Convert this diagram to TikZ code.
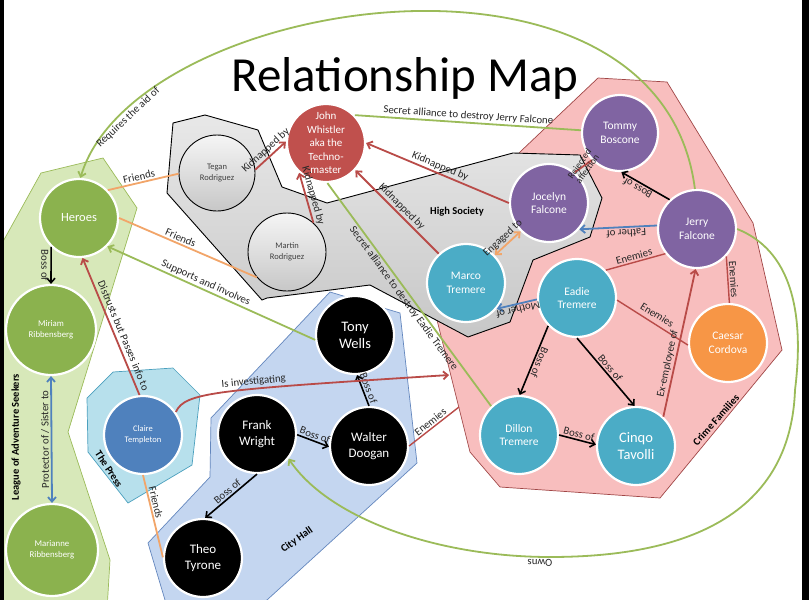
\documentclass[tikz,border=0pt]{standalone}
\usepackage{fontspec}
\setmainfont{Carlito}
\usetikzlibrary{arrows.meta}

\definecolor{heroGreen}{RGB}{139,178,78}
\definecolor{leagueFill}{RGB}{215,232,185}
\definecolor{leagueLine}{RGB}{155,187,89}
\definecolor{crimeFill}{RGB}{248,190,190}
\definecolor{crimeLine}{RGB}{160,70,70}
\definecolor{cityFill}{RGB}{196,214,240}
\definecolor{cityLine}{RGB}{100,135,190}
\definecolor{pressFill}{RGB}{183,224,236}
\definecolor{pressLine}{RGB}{75,160,190}
\definecolor{villainRed}{RGB}{192,80,77}
\definecolor{falconePurple}{RGB}{128,100,162}
\definecolor{tremereAqua}{RGB}{75,172,198}
\definecolor{cordovaOrange}{RGB}{247,150,70}
\definecolor{pressBlue}{RGB}{79,129,189}
\definecolor{friendOrange}{RGB}{242,165,105}
\definecolor{linkGreen}{RGB}{155,187,89}
\definecolor{linkRed}{RGB}{185,75,72}
\definecolor{linkBlue}{RGB}{79,129,189}

\tikzset{
  person/.style={circle, draw=white, line width=2.2pt, minimum size=78pt, inner sep=1pt,
    align=center, text=white, font=\fontsize{11.5}{13.5}\selectfont},
  heroperson/.style={person, fill=heroGreen},
  guestperson/.style={person, draw=black, line width=0.9pt, top color=black!4,
    bottom color=black!22, text=black!75, font=\fontsize{8.5}{11.5}\selectfont},
  bigperson/.style={person, fill=black, font=\fontsize{14.5}{17}\selectfont},
  cityperson/.style={person, fill=black, font=\fontsize{13}{16}\selectfont},
  headend/.style={-{Straight Barb[length=4.5pt,width=8pt]}},
  bothends/.style={{Straight Barb[length=4.5pt,width=8pt]}-{Straight Barb[length=4.5pt,width=8pt]}},
  friendline/.style={friendOrange, line width=1.8pt},
  redline/.style={linkRed, line width=1.8pt},
  enemyline/.style={linkRed, line width=1.4pt},
  greenline/.style={linkGreen, line width=1.8pt},
  blueline/.style={linkBlue, line width=1.8pt},
  bossline/.style={black, line width=1.6pt},
  tag/.style={font=\fontsize{10.8}{12}\selectfont, text=black!85, inner sep=1.5pt},
  grouptag/.style={font=\bfseries\fontsize{10.5}{12}\selectfont, text=black},
  group/.style={line width=0.7pt, line join=miter}
}

\begin{document}
\begin{tikzpicture}[x=1pt,y=-1pt]

    \useasboundingbox (0,0) rectangle (809,600);
    \fill[white] (0,0) rectangle (809,600);

    % ============================================================
    % GROUP REGIONS
    % ============================================================
    \draw[group, draw=leagueLine, fill=leagueFill]
        (41,173) -- (103,158) -- (137,208) -- (68,432) -- (110,560)
        -- (107,610) -- (-10,610) -- (-10,265) -- cycle;
    \draw[group, draw=crimeLine, fill=crimeFill]
        (598,78) -- (667,82) -- (753,223) -- (782,350) -- (660,498)
        -- (500,487) -- (470,452) -- (432,300) -- (520,152) -- cycle;
    \draw[group, draw=black, line width=0.9pt, top color=black!9, bottom color=black!22]
        (173,123) -- (205,115) -- (258,130) -- (282,187) -- (327,203)
        -- (513,153) -- (580,155) -- (602,198) -- (590,237) -- (533,260)
        -- (510,322) -- (468,337) -- (370,285) -- (267,298) -- (262,300)
        -- (167,193) -- cycle;
    \draw[group, draw=cityLine, fill=cityFill]
        (211,418) -- (330,292) -- (400,313) -- (417,463) -- (256,610)
        -- (168,610) -- (148,543) -- (210,477) -- cycle;
    \draw[group, draw=pressLine, fill=pressFill]
        (87,398) -- (113,372) -- (173,368) -- (200,395) -- (192,465)
        -- (128,503) -- (88,452) -- cycle;

    \node[grouptag, rotate=90] (leaguetag) at (16,437) {League of Adventure Seekers};
    \node[grouptag] (societytag) at (457,212) {High Society};
    \node[grouptag, rotate=48] (crimetag) at (716,420) {Crime Families};
    \node[grouptag, rotate=35] (citytag) at (297,540) {City Hall};
    \node[grouptag, rotate=-57] (presstag) at (109,469) {The Press};

    % ============================================================
    % TITLE
    % ============================================================
    \node[font=\fontsize{49}{56}\selectfont] (title) at (405,78) {Relationship Map};

    % ============================================================
    % PEOPLE
    % ============================================================
    \node[heroperson, font=\fontsize{12.5}{14}\selectfont] (heroes) at (79,218) {Heroes};
    \node[heroperson, minimum size=90pt, font=\fontsize{8.8}{11}\selectfont]
        (miriam) at (51,330) {Miriam\\Ribbensberg};
    \node[heroperson, minimum size=92pt, font=\fontsize{8.8}{11}\selectfont]
        (marianne) at (52,550) {Marianne\\Ribbensberg};

    \node[guestperson, minimum size=76pt] (tegan) at (217,173) {Tegan\\Rodriguez};
    \node[guestperson] (martin) at (287,252) {Martin\\Rodriguez};

    \node[person, fill=villainRed, font=\fontsize{11}{13.5}\selectfont]
        (john) at (326,143) {John\\Whistler\\aka the\\Techno-\\master};

    \node[person, fill=falconePurple, minimum size=76pt] (tommy) at (620,133) {Tommy\\Boscone};
    \node[person, fill=falconePurple] (jocelyn) at (549,203) {Jocelyn\\Falcone};
    \node[person, fill=falconePurple] (jerry) at (697,229) {Jerry\\Falcone};

    \node[person, fill=tremereAqua] (marco) at (466,283) {Marco\\Tremere};
    \node[person, fill=tremereAqua] (eadie) at (577,298) {Eadie\\Tremere};
    \node[person, fill=tremereAqua] (dillon) at (519,435) {Dillon\\Tremere};
    \node[person, fill=tremereAqua, font=\fontsize{14.5}{17}\selectfont]
        (cinqo) at (636,446) {Cinqo\\Tavolli};
    \node[person, fill=cordovaOrange] (caesar) at (728,343) {Caesar\\Cordova};

    \node[bigperson] (tony) at (355,335) {Tony\\Wells};
    \node[cityperson] (frank) at (257,434) {Frank\\Wright};
    \node[cityperson] (walter) at (369,446) {Walter\\Doogan};
    \node[cityperson] (theo) at (203,558) {Theo\\Tyrone};

    \node[person, fill=pressBlue, font=\fontsize{8.5}{11}\selectfont]
        (claire) at (143,435) {Claire\\Templeton};

    \coordinate (crimeWest) at (449,375);
    \coordinate (crimeSide) at (459,407);

    % ============================================================
    % RELATIONS
    % ============================================================
    % friends
    \draw[friendline] (heroes.44) -- node[tag, sloped, above, pos=0.46] {Friends} (tegan.181);
    \draw[friendline] (heroes.east) -- node[tag, sloped, above, pos=0.43] {Friends} (martin.220);
    \draw[friendline] (claire.-90) -- node[tag, sloped, above, pos=0.35] {Friends} (theo.179);

    % heroes
    \draw[greenline, headend] (tony.187)
        -- node[tag, sloped, above, pos=0.54] {Supports and involves} (heroes.-45);
    \draw[redline, headend] (claire.95)
        -- node[tag, sloped, above=2pt, pos=0.41] {Distrusts but Passes info to} (heroes.-85);
    \draw[bossline, headend] (heroes.226)
        -- node[tag, sloped, below, allow upside down] {Boss of} (miriam.north);
    \draw[blueline, bothends] (marianne.north)
        -- node[tag, sloped, above, allow upside down] {Protector of / Sister to} (miriam.south);

    % kidnappings
    \draw[redline, headend] (tegan.5) -- node[tag, sloped, above] {Kidnapped by} (john.178);
    \draw[redline, headend] (martin.48) -- node[tag, sloped, above] {Kidnapped by} (john.-132);
    \draw[redline, headend] (jocelyn.180) -- node[tag, sloped, above] {Kidnapped by} (john.0);
    \draw[redline, headend] (marco.133) -- node[tag, sloped, above] {Kidnapped by} (john.-43);

    % alliances
    \draw[greenline] (john.44)
        -- node[tag, sloped, above] {Secret alliance to destroy Jerry Falcone} (tommy.176);
    \draw[greenline] (john.-88)
        -- node[tag, sloped, below] {Secret alliance to destroy Eadie Tremere} (dillon.134);

    % families
    \draw[redline] (jocelyn.50)
        -- node[tag, rotate=55, align=center, font=\fontsize{9.5}{9.5}\selectfont] {Rejected\\affection} (tommy.224);
    \draw[bossline, headend] (jerry.133)
        -- node[tag, sloped, above, allow upside down, pos=0.6] {Boss of} (tommy.-88);
    \draw[blueline, headend] (jerry.175)
        -- node[tag, sloped, above, allow upside down, pos=0.4] {Father of} (jocelyn.-41);
    \draw[blueline, headend] (eadie.182)
        -- node[tag, sloped, above, allow upside down] {Mother of} (marco.-40);
    \draw[friendline, bothends] (marco.44) -- node[tag, sloped, above] {Engaged to} (jocelyn.225);

    % enemies
    \draw[enemyline] (eadie.44) -- node[tag, sloped, above] {Enemies} (jerry.218);
    \draw[enemyline] (eadie.-3) -- node[tag, sloped, above=3pt] {Enemies} (caesar.183);
    \draw[enemyline] (caesar.88) -- node[tag, sloped, above] {Enemies} (jerry.-43);
    \draw[redline, headend] (cinqo.47)
        -- node[tag, sloped, above, pos=0.35] {Ex-employee of} (jerry.-92);
    \draw[enemyline] (walter.east) -- node[tag, sloped, above] {Enemies} (crimeSide);

    % bosses
    \draw[bossline, headend] (eadie.224)
        -- node[tag, sloped, above, allow upside down] {Boss of} (dillon.89);
    \draw[bossline, headend] (eadie.-90) -- node[tag, sloped, above] {Boss of} (cinqo.92);
    \draw[bossline, headend] (dillon.0) -- node[tag, sloped, above] {Boss of} (cinqo.178);
    \draw[bossline, headend] (frank.-1) -- node[tag, sloped, above] {Boss of} (walter.181);
    \draw[bossline, headend] (walter.90) -- node[tag, sloped, above] {Boss of} (tony.-87);
    \draw[bossline, headend] (frank.-90) -- node[tag, sloped, above] {Boss of} (theo.87);

    % press
    \draw[redline, headend] (claire.35) .. controls (185,392) and (215,390) ..
        node[tag, sloped, above, pos=0.6] {Is investigating} (crimeWest);

    % long arcs
    \draw[greenline, headend] (jerry.93) .. controls (660,-85) and (135,-5) ..
        node[tag, sloped, below, pos=0.87] {Requires the aid of} (heroes.88);
    \draw[greenline, headend] (jerry.east) .. controls (790,250) and (805,310) .. (795,390)
        .. controls (790,530) and (660,557) .. (550,557)
        .. controls (440,557) and (330,520) ..
        node[tag, sloped, above, allow upside down, pos=0.03] {Owns} (frank.-38);

    % ============================================================
    % FRAME
    % ============================================================
    \fill[black] (0,0) rectangle (4,600);
    \fill[black] (802,0) rectangle (809,600);

\end{tikzpicture}
\end{document}
